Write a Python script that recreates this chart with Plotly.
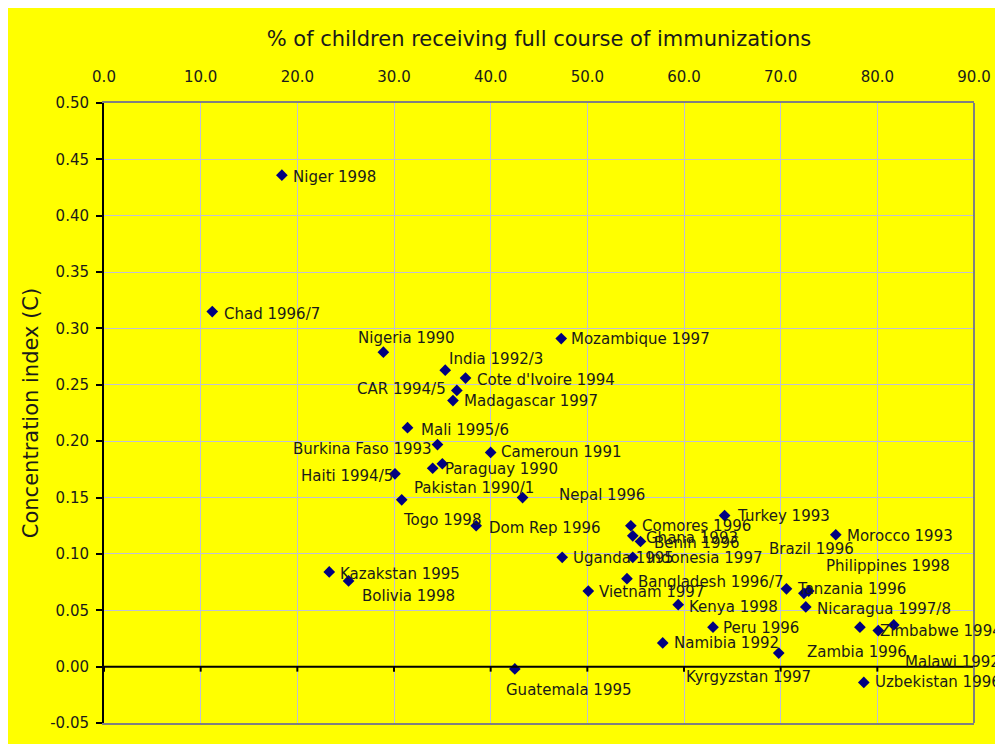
import plotly.graph_objects as go

# ---- data ----
countries = [
    "Niger 1998", "Chad 1996/7", "Nigeria 1990", "India 1992/3", "Cote d'Ivoire 1994",
    "CAR 1994/5", "Madagascar 1997", "Mali 1995/6", "Burkina Faso 1993", "Cameroun 1991",
    "Paraguay 1990", "Pakistan 1990/1", "Haiti 1994/5", "Togo 1998", "Nepal 1996",
    "Dom Rep 1996", "Mozambique 1997", "Turkey 1993", "Comores 1996", "Ghana 1993",
    "Benin 1996", "Indonesia 1997", "Uganda 1995", "Bangladesh 1996/7", "Vietnam 1997",
    "Kenya 1998", "Peru 1996", "Namibia 1992", "Kyrgyzstan 1997", "Guatemala 1995",
    "Kazakstan 1995", "Bolivia 1998", "Morocco 1993", "Brazil 1996", "Philippines 1998",
    "Tanzania 1996", "Nicaragua 1997/8", "Zambia 1996", "Zimbabwe 1994", "Malawi 1992",
    "Uzbekistan 1996",
]
immunization_pct = [
    18.4, 11.2, 28.9, 35.3, 37.4,
    36.5, 36.1, 31.4, 34.5, 40.0,
    35.0, 34.0, 30.1, 30.8, 43.3,
    38.5, 47.3, 64.2, 54.5, 54.7,
    55.5, 54.7, 47.4, 54.1, 50.1,
    59.4, 63.0, 57.8, 69.8, 42.5,
    23.3, 25.3, 75.7, 72.4, 72.9,
    70.6, 72.6, 78.2, 80.1, 81.7,
    78.6,
]
concentration_index = [
    0.436, 0.315, 0.279, 0.263, 0.256,
    0.245, 0.236, 0.212, 0.197, 0.190,
    0.180, 0.176, 0.171, 0.148, 0.150,
    0.125, 0.291, 0.134, 0.125, 0.116,
    0.111, 0.097, 0.097, 0.078, 0.067,
    0.055, 0.035, 0.021, 0.012, -0.002,
    0.084, 0.076, 0.117, 0.065, 0.067,
    0.069, 0.053, 0.035, 0.032, 0.037,
    -0.014,
]
x_ticks = [0, 10, 20, 30, 40, 50, 60, 70, 80, 90]
y_ticks = [-0.05, 0.0, 0.05, 0.10, 0.15, 0.20, 0.25, 0.30, 0.35, 0.40, 0.45, 0.50]

# ---- label placement (pixel offsets from marker; dy positive = downward) ----
label_anchor = [
    "left", "left", "left", "left", "left",
    "right", "left", "left", "right", "left",
    "left", "left", "right", "left", "left",
    "left", "left", "left", "left", "left",
    "left", "left", "left", "left", "left",
    "left", "left", "left", "left", "left",
    "left", "left", "left", "left", "left",
    "left", "left", "left", "left", "left",
    "left",
]
label_dx = [
    9, 10, -27, 2, 9,
    -9, 9, 11, -4, 8,
    1, -21, 0, -1, 34,
    11, 8, 10, 9, 11,
    11, 12, 9, 9, 9,
    9, 8, 9, -95, -11,
    9, 11, 9, -37, 15,
    9, 9, -55, 0, 9,
    9,
]
label_dy = [
    2, 2, -14, -11, 2,
    -1, 0, 2, 4, 0,
    5, 20, 2, 20, -3,
    2, 0, 0, 0, 2,
    1, 1, 1, 3, 1,
    2, 1, 0, 24, 21,
    2, 15, 1, -44, -25,
    0, 2, 25, 0, 37,
    0,
]

FONT = "DejaVu Sans"
YELLOW = "#ffff00"
GRID = "#c0c0d4"
TXT = "#1a1a1a"

fig = go.Figure()
fig.add_trace(go.Scatter(
    x=immunization_pct, y=concentration_index, mode="markers",
    marker=dict(symbol="diamond", size=9, color="#000080"),
    hoverinfo="text", text=countries, showlegend=False, cliponaxis=False,
))

annotations = []
for name, xv, yv, anc, dx, dy in zip(countries, immunization_pct, concentration_index,
                                     label_anchor, label_dx, label_dy):
    annotations.append(dict(
        x=xv, y=yv, xref="x", yref="y", text=name, showarrow=False,
        xanchor=anc, yanchor="middle", xshift=dx, yshift=-dy,
        font=dict(family=FONT, size=15, color=TXT),
    ))

shapes = []
# zero line with tick marks (x axis crossing at 0)
for v in x_ticks:
    shapes.append(dict(type="line", xref="x", yref="y", ysizemode="pixel", yanchor=0,
                       x0=v, x1=v, y0=0, y1=-5, line=dict(color="black", width=2)))
shapes.append(dict(type="line", xref="paper", yref="y", x0=0, x1=1, y0=0, y1=0,
                   line=dict(color="black", width=2)))
# right border
shapes.append(dict(type="line", xref="paper", yref="paper", x0=1, x1=1, y0=0, y1=1,
                   line=dict(color="#808080", width=2)))

fig.update_layout(
    width=995, height=736,
    margin=dict(l=96, r=27, t=95, b=18),
    paper_bgcolor=YELLOW, plot_bgcolor=YELLOW,
    font=dict(family=FONT, size=15, color=TXT),
    annotations=annotations, shapes=shapes,
    xaxis=dict(
        side="top", range=[0, 90], tickvals=x_ticks,
        ticktext=[f"{v:.1f}" for v in x_ticks],
        showgrid=True, gridcolor=GRID, gridwidth=1, zeroline=False,
        showline=True, linecolor="#808080", linewidth=2, mirror=True,
        ticks="", ticklabelstandoff=13,
        tickfont=dict(family=FONT, size=15, color=TXT),
        title=dict(text="% of children receiving full course of immunizations",
                   font=dict(family=FONT, size=21, color=TXT), standoff=16),
    ),
    yaxis=dict(
        range=[-0.05, 0.5], tickvals=y_ticks,
        ticktext=[f"{v:.2f}" for v in y_ticks],
        showgrid=True, gridcolor=GRID, gridwidth=1, zeroline=False,
        showline=True, linecolor="black", linewidth=2, mirror=False,
        ticks="outside", ticklen=6, tickwidth=2, tickcolor="black",
        ticklabelstandoff=4,
        tickfont=dict(family=FONT, size=15, color=TXT),
        title=dict(text="Concentration index (C)",
                   font=dict(family=FONT, size=21, color=TXT), standoff=6),
    ),
)

fig.write_html("out.html")
